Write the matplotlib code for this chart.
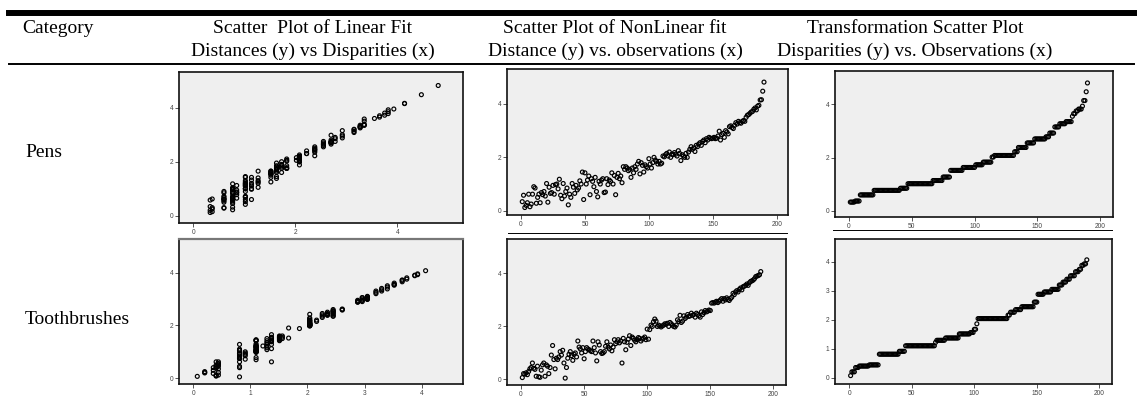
import matplotlib.pyplot as plt
import numpy as np
from matplotlib.lines import Line2D

plt.rcParams['font.family'] = ['Liberation Sans', 'DejaVu Sans']

# table text
categories = ['Pens', 'Toothbrushes']
col_titles = [['Scatter  Plot of Linear Fit', 'Distances (y) vs Disparities (x)'],
              ['Scatter Plot of NonLinear fit', 'Distance (y) vs. observations (x)'],
              ['Transformation Scatter Plot', 'Disparities (y) vs. Observations (x)']]

# disparities are sorted plateaus: level and number of observations on it
pens_disp_levels = [0.33, 0.37, 0.60, 0.77, 0.85, 1.02, 1.14, 1.27, 1.52, 1.63,
                    1.73, 1.83, 2.02, 2.08, 2.22, 2.38, 2.55, 2.70, 2.78, 2.92,
                    3.15, 3.27, 3.35, 3.55, 3.65, 3.75, 3.82, 3.93, 4.14, 4.47, 4.80]
pens_disp_counts = [4, 4, 11, 21, 6, 20, 8, 6, 10, 10,
                    6, 7, 2, 16, 3, 7, 6, 9, 3, 4,
                    4, 5, 5, 1, 2, 2, 3, 1, 2, 1, 1]
pens_distances = [0.34, 0.58, 0.12, 0.20, 0.30, 0.62, 0.15, 0.25, 0.62, 0.90,
                  0.85, 0.28, 0.50, 0.62, 0.30, 0.68, 0.60, 0.72, 0.55, 1.02,
                  0.32, 0.88, 0.65, 0.68, 0.95, 0.62, 0.98, 1.00, 0.82, 1.18,
                  0.58, 0.45, 1.02, 0.55, 0.72, 0.85, 0.22, 0.62, 0.50, 1.02,
                  0.88, 0.65, 0.95, 0.78, 0.85, 1.12, 1.00, 1.45, 0.42, 1.42,
                  1.00, 1.15, 1.30, 0.60, 1.20, 1.10, 0.90, 1.25, 0.72, 0.52,
                  1.10, 1.00, 1.15, 1.20, 0.68, 0.70, 1.20, 0.98, 1.15, 1.10,
                  1.42, 1.00, 1.32, 0.60, 1.25, 1.40, 1.20, 1.30, 1.05, 1.65,
                  1.55, 1.65, 1.60, 1.50, 1.55, 1.25, 1.60, 1.42, 1.65, 1.55,
                  1.75, 1.85, 1.38, 1.80, 1.70, 1.45, 1.72, 1.65, 1.60, 1.95,
                  1.75, 1.60, 1.80, 2.00, 1.90, 1.85, 1.75, 1.85, 1.75, 1.78,
                  2.05, 2.02, 2.10, 2.15, 2.05, 2.20, 2.00, 2.12, 2.10, 2.18,
                  2.12, 2.05, 2.25, 2.15, 1.88, 2.10, 2.05, 2.00, 2.15, 2.00,
                  2.20, 2.30, 2.40, 2.30, 2.35, 2.22, 2.45, 2.40, 2.50, 2.55,
                  2.45, 2.60, 2.65, 2.55, 2.70, 2.65, 2.75, 2.72, 2.70, 2.72,
                  2.75, 2.70, 2.72, 2.80, 2.98, 2.65, 2.85, 2.90, 2.75, 3.00,
                  2.95, 2.88, 3.15, 3.18, 3.12, 3.08, 3.20, 3.30, 3.25, 3.35,
                  3.30, 3.28, 3.35, 3.38, 3.35, 3.50, 3.58, 3.60, 3.65, 3.70,
                  3.72, 3.80, 3.85, 3.78, 3.92, 3.95, 4.15, 4.16, 4.48, 4.82]

tooth_disp_levels = [0.07, 0.20, 0.35, 0.40, 0.44, 0.81, 0.91, 1.10, 1.22, 1.29,
                     1.37, 1.51, 1.56, 1.67, 1.86, 2.04, 2.16, 2.26, 2.35, 2.45,
                     2.61, 2.88, 2.96, 3.05, 3.20, 3.30, 3.40, 3.52, 3.66, 3.74,
                     3.88, 3.93, 4.07]
tooth_disp_counts = [1, 3, 3, 8, 8, 16, 5, 24, 1, 7,
                     11, 9, 3, 2, 1, 24, 2, 4, 5, 10,
                     3, 5, 6, 6, 3, 3, 3, 4, 3, 2,
                     2, 2, 1]
tooth_distances = [0.07, 0.22, 0.20, 0.25, 0.18, 0.30, 0.40, 0.45, 0.62, 0.42,
                   0.38, 0.12, 0.50, 0.10, 0.08, 0.35, 0.55, 0.62, 0.12, 0.55,
                   0.50, 0.22, 0.45, 0.92, 1.28, 0.75, 0.40, 0.80, 0.75, 0.85,
                   1.05, 0.92, 1.10, 0.62, 0.05, 0.45, 0.80, 0.95, 1.05, 0.90,
                   0.72, 0.95, 1.00, 0.85, 1.45, 1.22, 1.15, 1.00, 1.20, 0.78,
                   1.05, 1.20, 1.15, 1.12, 1.08, 1.05, 1.45, 1.20, 1.00, 0.70,
                   1.42, 1.30, 1.05, 0.98, 1.00, 1.05, 1.25, 1.42, 1.22, 1.15,
                   1.30, 1.08, 1.22, 1.50, 1.35, 1.42, 1.50, 1.38, 1.45, 0.62,
                   1.55, 1.42, 1.12, 1.40, 1.52, 1.65, 1.28, 1.60, 1.55, 1.48,
                   1.42, 1.50, 1.58, 1.55, 1.45, 1.52, 1.55, 1.60, 1.50, 1.90,
                   1.52, 1.88, 2.05, 2.00, 2.18, 2.28, 2.20, 2.00, 2.05, 2.02,
                   1.98, 2.02, 2.05, 2.10, 2.08, 2.12, 2.00, 2.15, 2.10, 2.05,
                   2.00, 1.98, 2.05, 2.25, 2.18, 2.42, 2.15, 2.20, 2.40, 2.30,
                   2.35, 2.45, 2.38, 2.40, 2.50, 2.42, 2.45, 2.35, 2.50, 2.45,
                   2.40, 2.35, 2.55, 2.45, 2.52, 2.60, 2.55, 2.58, 2.62, 2.60,
                   2.88, 2.90, 2.88, 2.92, 2.95, 2.90, 2.95, 3.00, 3.05, 2.95,
                   3.05, 3.00, 3.08, 3.02, 2.98, 3.05, 3.10, 3.25, 3.20, 3.30,
                   3.35, 3.30, 3.40, 3.45, 3.38, 3.50, 3.52, 3.55, 3.60, 3.55,
                   3.65, 3.70, 3.72, 3.75, 3.80, 3.88, 3.90, 3.92, 3.95, 4.07]

pens_disp = np.repeat(pens_disp_levels, pens_disp_counts)
tooth_disp = np.repeat(tooth_disp_levels, tooth_disp_counts)
pens_obs = np.arange(1, len(pens_distances) + 1)
tooth_obs = np.arange(1, len(tooth_distances) + 1)

W, H = 1142, 398
fig = plt.figure(figsize=(W / 100, H / 100), dpi=100)
fig.patch.set_facecolor('white')


def add_ax(l, t, r, b):
    # pixel box -> figure fraction
    return fig.add_axes([l / W, 1 - b / H, (r - l) / W, (b - t) / H])


def hline(x0, x1, y, lw):
    fig.add_artist(Line2D([x0 / W, x1 / W], [1 - y / H, 1 - y / H], lw=lw,
                          color='black', transform=fig.transFigure))


def style(ax, xlim, ylim, xticks, yticks):
    ax.set_facecolor('#efefef')
    ax.set_xlim(*xlim)
    ax.set_ylim(*ylim)
    ax.set_xticks(xticks)
    ax.set_yticks(yticks)
    for s in ax.spines.values():
        s.set_linewidth(1.2)
        s.set_color('#111111')
    ax.tick_params(direction='out', length=3, width=0.7, color='#555555',
                   labelcolor='#444444', labelsize=4.8, pad=1.2)


def dots(ax, x, y):
    ax.scatter(x, y, s=8, facecolors='none', edgecolors='black', linewidths=0.85)


# table rules
hline(9, 1134, 13, 4.3)
hline(9, 1134, 63.5, 1.4)

serif = 'Liberation Serif'
fig.text(22 / W, 1 - 33 / H, 'Category', fontsize=14, family=serif, va='baseline')
for cx, (l1, l2) in zip([313, 615, 915], col_titles):
    fig.text(cx / W, 1 - 33 / H, l1, fontsize=14, family=serif, ha='center', va='baseline')
    fig.text(cx / W, 1 - 55.5 / H, l2, fontsize=14, family=serif, ha='center', va='baseline')
fig.text(25 / W, 1 - 157 / H, categories[0], fontsize=14, family=serif, va='baseline')
fig.text(25 / W, 1 - 324 / H, categories[1], fontsize=14, family=serif, va='baseline')

obs_ticks = [0, 50, 100, 150, 200]

# Pens row
ax = add_ax(179.3, 72, 462.7, 223.3)
dots(ax, pens_disp, pens_distances)
style(ax, (-0.275, 5.28), (-0.28, 5.32), [0, 2, 4], [0, 2, 4])

ax = add_ax(507.3, 69.3, 788.3, 215)
dots(ax, pens_obs, pens_distances)
style(ax, (-10.7, 209), (-0.16, 5.3), obs_ticks, [0, 2, 4])

ax = add_ax(835, 70.7, 1113.3, 217.3)
dots(ax, pens_obs, pens_disp)
style(ax, (-11.2, 210.6), (-0.24, 5.26), obs_ticks, [0, 2, 4])

# image borders under the first row
hline(508, 787, 233, 0.7)
hline(833, 1112, 230, 0.7)

# Toothbrushes row
ax = add_ax(179.3, 239, 462.7, 384.3)
dots(ax, tooth_disp, tooth_distances)
style(ax, (-0.245, 4.72), (-0.23, 5.27), [0, 1, 2, 3, 4], [0, 2, 4])
ax.spines['top'].set_color('#777777')
ax.spines['top'].set_linewidth(1.6)

ax = add_ax(507.3, 239, 786, 385)
dots(ax, tooth_obs, tooth_distances)
style(ax, (-10.9, 210), (-0.21, 5.3), obs_ticks, [0, 2, 4])

ax = add_ax(835, 239, 1112.3, 384.3)
dots(ax, tooth_obs, tooth_disp)
style(ax, (-11.5, 210.4), (-0.23, 4.79), obs_ticks, [0, 1, 2, 3, 4])

fig.savefig('out.png', dpi=100)
